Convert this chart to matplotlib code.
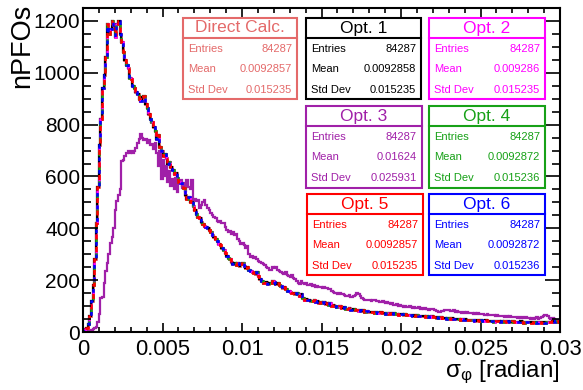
import numpy as np
import matplotlib
matplotlib.use("Agg")
import matplotlib.pyplot as plt
from matplotlib.patches import Rectangle
from matplotlib.ticker import MultipleLocator, FuncFormatter

plt.rcParams['font.family'] = ['Liberation Sans', 'DejaVu Sans']
plt.rcParams['mathtext.fontset'] = 'custom'
plt.rcParams['mathtext.rm'] = 'Liberation Sans'
plt.rcParams['mathtext.it'] = 'Liberation Sans:italic'

# histogram binning (radian)
x_min = 0.0
bin_width = 0.0001
n_bins = 300

# counts per bin, common shape of Direct Calc. / Opt. 1, 2, 4, 5, 6
main_counts = [
    5, 10, 15, 30, 60, 120, 180, 280, 420, 560,
    720, 820, 940, 990, 1060, 1190, 1150, 1170, 1200, 1180,
    1140, 1190, 1200, 1150, 1120, 1080, 1050, 1030, 1020, 980,
    975, 950, 940, 925, 920, 900, 890, 905, 910, 880,
    865, 840, 820, 810, 790, 775, 745, 760, 715, 700,
    680, 685, 670, 650, 655, 635, 625, 610, 615, 595,
    580, 575, 565, 555, 530, 515, 520, 500, 505, 485,
    470, 455, 445, 440, 425, 415, 410, 405, 400, 395,
    385, 375, 365, 360, 350, 340, 335, 325, 315, 305,
    295, 285, 280, 270, 262, 268, 260, 265, 255, 262,
    268, 255, 245, 250, 240, 235, 232, 228, 225, 230,
    215, 205, 195, 190, 188, 192, 185, 190, 188, 195,
    192, 185, 190, 180, 178, 170, 172, 165, 160, 158,
    155, 152, 150, 148, 150, 145, 140, 148, 130, 125,
    128, 122, 125, 120, 118, 122, 115, 118, 112, 115,
    110, 115, 108, 112, 105, 110, 102, 106, 100, 98,
    96, 100, 94, 92, 95, 90, 88, 92, 86, 85,
    88, 84, 86, 82, 85, 80, 83, 78, 80, 77,
    79, 76, 78, 74, 77, 75, 72, 76, 73, 74,
    71, 74, 70, 73, 69, 72, 68, 71, 67, 70,
    68, 66, 69, 65, 67, 64, 66, 63, 65, 62,
    64, 61, 63, 60, 62, 59, 61, 58, 57, 60,
    56, 58, 55, 57, 54, 56, 53, 55, 52, 54,
    53, 51, 54, 50, 52, 49, 51, 48, 50, 47,
    49, 46, 48, 47, 45, 48, 44, 46, 45, 43,
    46, 44, 42, 45, 43, 41, 44, 42, 40, 43,
    41, 43, 40, 42, 39, 41, 38, 42, 40, 39,
    41, 38, 40, 37, 39, 41, 38, 36, 40, 38,
    37, 39, 36, 40, 38, 35, 39, 37, 36, 38,
    36, 39, 37, 40, 38, 41, 39, 42, 40, 44,
]

# counts per bin for Opt. 3
opt3_counts = [
    0, 1, 2, 3, 5, 8, 10, 15, 20, 40,
    70, 130, 135, 190, 235, 265, 300, 345, 365, 400,
    470, 505, 530, 550, 660, 665, 680, 690, 700, 690,
    700, 690, 700, 710, 730, 745, 765, 750, 740, 745,
    728, 740, 722, 725, 705, 730, 690, 640, 700, 590,
    665, 600, 640, 580, 620, 565, 590, 550, 595, 540,
    575, 585, 555, 575, 545, 585, 560, 550, 585, 510,
    515, 505, 510, 480, 490, 500, 510, 490, 480, 470,
    460, 450, 445, 440, 430, 425, 430, 420, 422, 405,
    395, 385, 390, 380, 385, 375, 378, 360, 350, 340,
    345, 335, 325, 330, 300, 290, 292, 285, 290, 280,
    275, 270, 268, 262, 258, 250, 245, 240, 238, 250,
    245, 252, 240, 235, 232, 228, 225, 230, 220, 215,
    212, 218, 210, 205, 195, 190, 185, 195, 188, 185,
    190, 182, 180, 185, 178, 180, 175, 178, 172, 174,
    170, 172, 168, 170, 165, 166, 160, 155, 150, 152,
    148, 150, 145, 147, 142, 140, 138, 142, 136, 135,
    138, 142, 150, 148, 140, 132, 128, 125, 122, 124,
    123, 120, 124, 122, 118, 121, 117, 115, 118, 114,
    112, 115, 110, 108, 112, 106, 104, 108, 102, 105,
    100, 98, 102, 97, 96, 99, 95, 94, 97, 93,
    92, 95, 90, 93, 89, 92, 88, 86, 90, 87,
    88, 84, 80, 78, 76, 80, 82, 85, 83, 86,
    84, 82, 80, 85, 78, 80, 76, 78, 75, 77,
    74, 76, 73, 72, 75, 71, 73, 70, 72, 69,
    68, 70, 67, 66, 68, 65, 67, 64, 66, 63,
    65, 62, 60, 63, 61, 59, 62, 58, 60, 57,
    59, 56, 58, 55, 57, 54, 56, 55, 57, 53,
    55, 52, 54, 51, 53, 56, 52, 55, 58, 60,
    64, 66, 60, 55, 52, 54, 50, 48, 46, 48,
]

# stat boxes
box_titles = ["Direct Calc.", "Opt. 1", "Opt. 2", "Opt. 3", "Opt. 4", "Opt. 5", "Opt. 6"]
box_entries = ["84287"] * 7
box_means = ["0.0092857", "0.0092858", "0.009286", "0.01624", "0.0092872", "0.0092857", "0.0092872"]
box_stds = ["0.015235", "0.015235", "0.015235", "0.025931", "0.015236", "0.015235", "0.015236"]
box_colors = ["#e46a6a", "black", "#ff00ff", "#a020a8", "#17a117", "#ff0000", "#0000ff"]
# left, top, right, bottom in pixels
box_px = [
    (183, 18, 297, 99),
    (306, 18, 421, 99),
    (429, 18, 545, 99),
    (306, 106, 422, 188),
    (429, 106, 545, 188),
    (307, 194, 423, 275),
    (429, 194, 545, 275),
]

W, H = 583, 390
fig = plt.figure(figsize=(W / 100, H / 100), dpi=100)
ax = fig.add_axes([83 / W, 1 - 332 / H, (560 - 83) / W, (332 - 8) / H])

edges = x_min + bin_width * np.arange(n_bins + 1)

# main curves, stacked with dashes so they look mottled like ROOT output
ax.stairs(main_counts, edges, color=box_colors[0], lw=2.0, baseline=None)
ax.stairs(main_counts, edges, color=box_colors[1], lw=1.6, baseline=None)
ax.stairs(opt3_counts, edges, color=box_colors[3], lw=1.6, baseline=None)
ax.stairs(main_counts, edges, color=box_colors[2], lw=1.8, ls=(0, (2, 4)), baseline=None)
ax.stairs(main_counts, edges, color=box_colors[4], lw=1.8, ls=(1.5, (2, 4)), baseline=None)
ax.stairs(main_counts, edges, color=box_colors[5], lw=1.8, ls=(3, (2, 3)), baseline=None)
ax.stairs(main_counts, edges, color=box_colors[6], lw=1.8, ls=(0.5, (1.5, 3.5)), baseline=None)

ax.set_xlim(0, 0.03)
ax.set_ylim(0, 1250)

ax.xaxis.set_major_locator(MultipleLocator(0.005))
ax.xaxis.set_minor_locator(MultipleLocator(0.001))
ax.yaxis.set_major_locator(MultipleLocator(200))
ax.yaxis.set_minor_locator(MultipleLocator(50))
ax.xaxis.set_major_formatter(FuncFormatter(lambda v, p: "0" if v == 0 else ("%g" % v)))

ax.tick_params(axis='x', which='major', direction='in', length=6.5, width=1.2,
               top=True, labelsize=15.8, pad=5)
ax.tick_params(axis='x', which='minor', direction='in', length=3.6, width=1.2, top=True)
ax.tick_params(axis='y', which='major', direction='in', length=10.5, width=1.2,
               right=True, labelsize=15, pad=2)
ax.tick_params(axis='y', which='minor', direction='in', length=5.5, width=1.2, right=True)
for s in ax.spines.values():
    s.set_linewidth(1.5)

fig.text(22 / W, 1 - 4 / H, "nPFOs", rotation=90, ha='center', va='top', fontsize=19.5)
fig.text(560 / W, 1 - 386 / H, r"$\mathrm{σ}_{\mathrm{φ}}$ [radian]", ha='right', va='bottom',
         fontsize=17.5)

for i in range(len(box_titles)):
    l, t, r, b = box_px[i]
    c = box_colors[i]
    fig.add_artist(Rectangle((l / W, 1 - b / H), (r - l) / W, (b - t) / H,
                             transform=fig.transFigure, fill=False, ec=c, lw=1.5))
    div = t + 20
    fig.add_artist(plt.Line2D([l / W, r / W], [1 - div / H, 1 - div / H],
                              transform=fig.transFigure, color=c, lw=1.5))
    fig.text((l + r) / 2 / W, 1 - (t + div) / 2 / H, box_titles[i], color=c,
             ha='center', va='center', fontsize=12.5)
    rows = [("Entries", box_entries[i]), ("Mean", box_means[i]), ("Std Dev", box_stds[i])]
    for k, (name, val) in enumerate(rows):
        yy = div + 11 + k * 20.5
        fig.text((l + 5) / W, 1 - yy / H, name, color=c, ha='left', va='center', fontsize=8)
        fig.text((r - 5) / W, 1 - yy / H, val, color=c, ha='right', va='center', fontsize=8)

fig.savefig("out.png", dpi=100)
